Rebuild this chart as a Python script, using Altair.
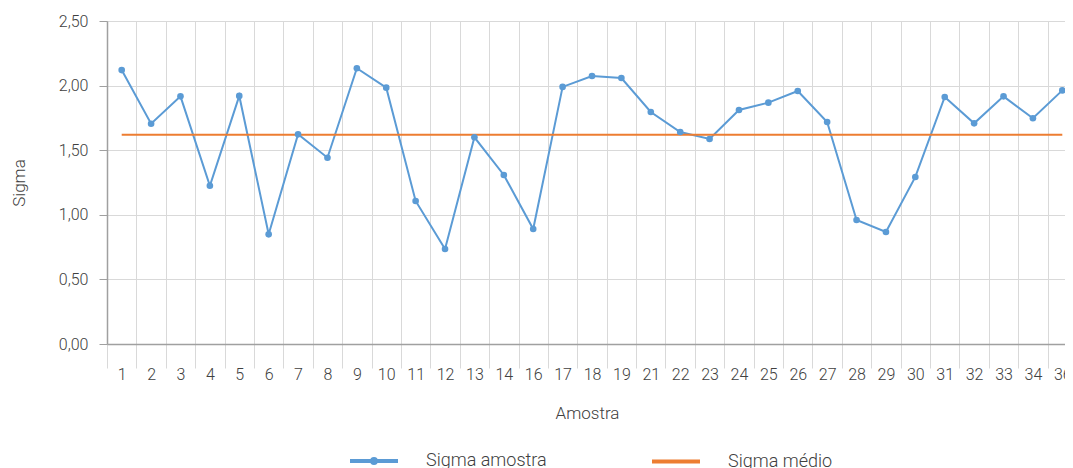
import altair as alt
import pandas as pd

amostras = ["1", "2", "3", "4", "5", "6", "7", "8", "9", "10", "11", "12", "13", "14",
            "16", "17", "18", "19", "21", "22", "23", "24", "25", "26", "27", "28",
            "29", "30", "31", "32", "33", "34", "36"]
sigma_amostra = [2.12, 1.705, 1.917, 1.225, 1.92, 0.849, 1.623, 1.442, 2.134, 1.984,
                 1.107, 0.735, 1.60, 1.308, 0.89, 1.99, 2.074, 2.059, 1.796, 1.641,
                 1.587, 1.811, 1.868, 1.958, 1.718, 0.96, 0.867, 1.293, 1.912, 1.708,
                 1.917, 1.747, 1.963]
sigma_medio = [1.62] * len(amostras)

series_names = ["Sigma amostra", "Sigma médio"]
series_colors = ["#5b9bd5", "#ed7d31"]
y_ticks = [0, 0.5, 1.0, 1.5, 2.0, 2.5]

rows = []
for a, v in zip(amostras, sigma_amostra):
    rows.append({"Amostra": a, "valor": v, "serie": series_names[0]})
for a, v in zip(amostras, sigma_medio):
    rows.append({"Amostra": a, "valor": v, "serie": series_names[1]})
df = pd.DataFrame(rows)

FONT = "Roboto"
TXT = "#404040"

# the x band scale runs past the visible area (the original chart is cut at the right)
x_enc = alt.X(
    "Amostra:N", sort=amostras, bandPosition=0.5,
    scale=alt.Scale(type="band", paddingInner=0, paddingOuter=0, range=[0, 970]),
    axis=alt.Axis(
        title="Amostra", labelAngle=0, tickBand="extent", grid=True,
        gridColor="#d9d9d9", tickColor="#d9d9d9", tickSize=24, labelPadding=-2,
        domainColor="#a0a0a0", domainWidth=1.5, labelFontSize=16, labelColor=TXT,
        labelFont=FONT, labelFontWeight=300, titleFont=FONT, titleFontWeight=300,
        titleFontSize=17, titleColor=TXT, titlePadding=23, titleX=480,
    ),
)
y_enc = alt.Y(
    "valor:Q",
    scale=alt.Scale(domain=[0, 2.5], nice=False, zero=True),
    axis=alt.Axis(
        title="Sigma", values=y_ticks,
        labelExpr="replace(format(datum.value, '.2f'), '.', ',')",
        grid=True, gridColor="#d9d9d9", tickColor="#a0a0a0", tickSize=8,
        domainColor="#a0a0a0", domainWidth=1.5, labelPadding=11, labelFontSize=16,
        labelColor=TXT, labelFont=FONT, labelFontWeight=300, titleFont=FONT,
        titleFontWeight=300, titleFontSize=17, titleColor=TXT, titlePadding=30,
    ),
)

dot_path = "M-1,0L1,0M-0.08,0A0.08,0.08,0,1,1,0.08,0A0.08,0.08,0,1,1,-0.08,0Z"
legend = alt.Legend(
    title=None, orient="none", legendX=241, legendY=414, direction="horizontal",
    columns=2, columnPadding=97, labelOffset=26, symbolSize=2304,
    symbolStrokeWidth=4, symbolOpacity=1, labelFont=FONT, labelFontWeight=300,
    labelFontSize=18, labelColor=TXT, padding=0,
)

scale_color = alt.Scale(domain=series_names, range=series_colors)

lines = alt.Chart(df).mark_line(strokeWidth=2).encode(
    x=x_enc, y=y_enc,
    color=alt.Color("serie:N", scale=scale_color, legend=None, sort=series_names),
    order=alt.Order("serie:N", sort="descending"),
)

dots = alt.Chart(df).transform_filter(
    alt.datum.serie == series_names[0]
).mark_circle(size=44, opacity=1, color=series_colors[0]).encode(x=x_enc, y=y_enc)

hidden = alt.Chart(df).mark_point(filled=True, opacity=0).encode(
    x=x_enc, y=y_enc,
    fill=alt.Fill("serie:N", scale=scale_color, legend=legend, sort=series_names),
    stroke=alt.Stroke("serie:N", scale=scale_color, legend=legend, sort=series_names),
    shape=alt.Shape("serie:N", scale=alt.Scale(domain=series_names, range=[dot_path, "M-1,0L1,0"]),
                    legend=legend, sort=series_names),
)

chart = alt.layer(hidden, lines, dots).properties(
    width=958, height=323,
    autosize=alt.AutoSizeParams(type="none"),
    padding={"left": 99, "top": 13, "right": 0, "bottom": 130},
).configure_view(stroke=None).configure(background="white")

chart.save("out.html", embed_options={"renderer": "svg", "actions": False})
